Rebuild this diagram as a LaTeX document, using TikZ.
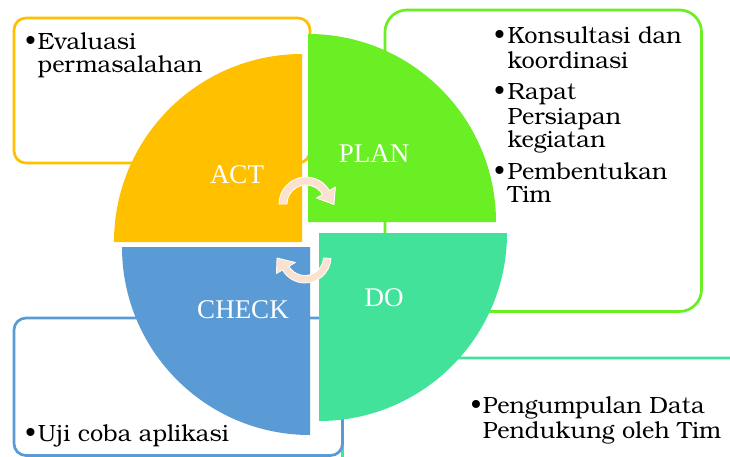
\documentclass[tikz,border=0pt]{standalone}
\usepackage{fontspec}
\setmainfont{texgyrebonum}[Extension=.otf, UprightFont=*-regular, BoldFont=*-bold]
\newfontfamily\quadfont{Liberation Serif}
\usetikzlibrary{calc}
\definecolor{actcol}{HTML}{FFC000}
\definecolor{plancol}{HTML}{6AEE24}
\definecolor{docol}{HTML}{43E29B}
\definecolor{checkcol}{HTML}{5B9BD5}
\definecolor{arrowcol}{HTML}{FBE2D0}
\begin{document}
\begin{tikzpicture}[x=1pt,y=-1pt,
  notebox/.style={line width=2.7pt, rounded corners=#1},
  quadlabel/.style={anchor=base, inner sep=0pt, text=white, font=\quadfont\fontsize{27}{27}\selectfont},
  textline/.style={anchor=base west, inner sep=0pt, font=\fontsize{23.5}{24.5}\selectfont},
  cyclearrow/.style={fill=arrowcol, draw=white, line width=0.8pt, line join=round}]

% canvas
\useasboundingbox (0,0) rectangle (730,457);
\fill[white] (0,0) rectangle (730,457);
\clip (0,0) rectangle (730,457);

% note boxes behind the quadrants
\draw[notebox=12, draw=docol] (342.5,358) rectangle (780,500);
\draw[notebox=12, draw=checkcol] (14,318) rectangle (342.5,455.5);
\draw[notebox=12, draw=actcol] (14,18) rectangle (310,163);
\draw[notebox=22, draw=plancol] (385,10) rectangle (701.5,311.5);

% the four quadrants
\fill[actcol] (302,242) -- ++(-188,0) arc[start angle=180, end angle=270, radius=188] -- cycle;
\fill[plancol] (308,222) -- ++(0,-188) arc[start angle=270, end angle=360, radius=188] -- cycle;
\fill[docol] (319,233) -- ++(188,0) arc[start angle=0, end angle=90, radius=188] -- cycle;
\fill[checkcol] (310,247) -- ++(0,188) arc[start angle=90, end angle=180, radius=188] -- cycle;

% quadrant labels
\node[quadlabel] (act) at (237,183) {ACT};
\node[quadlabel] (plan) at (374,163) {PLAN};
\node[quadlabel] (check) at (243,318) {CHECK};
\node[quadlabel] (do) at (384,306) {DO};

% circular arrows in the middle
\coordinate (T) at (306,204);
\coordinate (B) at (305,257);
\path[cyclearrow] ($(T)+(180:27)$) arc[start angle=180, end angle=330, radius=27]
  -- ($(T)+(330:34)$) -- (334,204.5) -- ($(T)+(330:12)$) -- ($(T)+(330:19)$)
  arc[start angle=330, end angle=180, radius=19] -- cycle;
\path[cyclearrow] ($(B)+(3:26)$) arc[start angle=3, end angle=150, radius=26]
  -- ($(B)+(150:33)$) -- (277,258) -- ($(B)+(150:11)$) -- ($(B)+(150:18.5)$)
  arc[start angle=150, end angle=3, radius=18.5] -- cycle;

% ACT notes
\node[textline] (a0) at (25,49.3) {•};
\node[textline] (a1) at (37.5,49.3) {Evaluasi};
\node[textline] (a2) at (37.5,72.7) {permasalahan};

% PLAN notes
\node[textline] (p0) at (494,43.3) {•};
\node[textline] (p1) at (507.5,43.3) {Konsultasi dan};
\node[textline] (p2) at (507.5,68.3) {koordinasi};
\node[textline] (p3) at (494,99.3) {•};
\node[textline] (p4) at (507.5,99.3) {Rapat};
\node[textline] (p5) at (507.5,124.3) {Persiapan};
\node[textline] (p6) at (507.5,148) {kegiatan};
\node[textline] (p7) at (494,179) {•};
\node[textline] (p8) at (507.5,179) {Pembentukan};
\node[textline] (p9) at (507.5,202.7) {Tim};

% DO notes
\node[textline] (d0) at (470.5,413.3) {•};
\node[textline] (d1) at (482.7,413.3) {Pengumpulan Data};
\node[textline] (d2) at (482.7,438.3) {Pendukung oleh Tim};

% CHECK notes
\node[textline] (c0) at (25,441.7) {•};
\node[textline] (c1) at (37.7,441.7) {Uji coba aplikasi};
\end{tikzpicture}
\end{document}
